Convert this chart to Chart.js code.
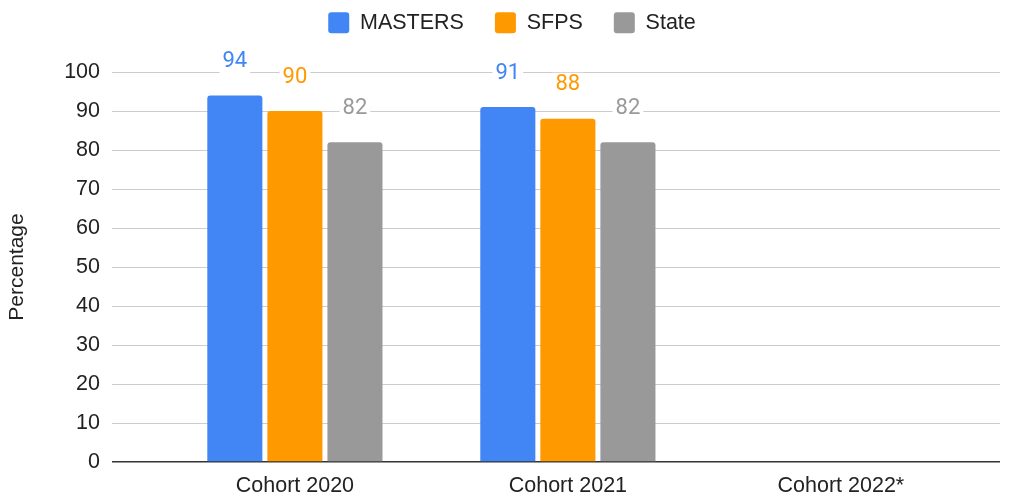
<!DOCTYPE html>
<html>
<head>
<meta charset="utf-8">
<script src="https://cdn.jsdelivr.net/npm/chart.js@4"></script>
<style>
  body { margin: 0; background: #fff; }
  #wrap { width: 1013px; height: 497px; }
</style>
</head>
<body>
<div id="wrap"><canvas id="bar-chart" width="1013" height="497"></canvas></div>
<script>
// graduation rates by cohort
var cohorts = ['Cohort 2020', 'Cohort 2021', 'Cohort 2022*'];
var mastersValues = [94, 91, null];
var sfpsValues = [90, 88, null];
var stateValues = [82, 82, null];
var yTicks = [0, 10, 20, 30, 40, 50, 60, 70, 80, 90, 100];

var colors = ['#4285f4', '#ff9900', '#999999'];

function toPoints(values) {
    return values.map(function (v, i) {
        return { x: i, y: v };
    });
}

// labels above bars, white box behind them like the original
var valueLabels = {
    id: 'valueLabels',
    afterDatasetsDraw: function (chart) {
        var ctx = chart.ctx;
        ctx.save();
        ctx.font = '22px Roboto';
        ctx.textAlign = 'center';
        ctx.textBaseline = 'middle';
        chart.data.datasets.forEach(function (ds, di) {
            var meta = chart.getDatasetMeta(di);
            meta.data.forEach(function (bar, i) {
                var v = ds.data[i].y;
                if (v == null) return;
                var y = bar.y - 34;
                var w = ctx.measureText(v).width;
                ctx.fillStyle = '#fff';
                ctx.fillRect(bar.x - w / 2 - 3, y - 12, w + 6, 24);
                ctx.fillStyle = colors[di];
                ctx.fillText(v, bar.x, y);
            });
        });
        ctx.restore();
    }
};

// fixed legend height, and nudge it right a bit (original is centred over the plot)
var legendFix = {
    id: 'legendFix',
    beforeInit: function (chart) {
        var legend = chart.legend;
        var fit = legend.fit;
        legend.fit = function () {
            fit.bind(legend)();
            this.height = 91;
        };
        var draw = legend.draw;
        legend.draw = function () {
            var c = this.ctx;
            c.save();
            c.translate(12, 0);
            draw.call(this);
            c.restore();
        };
    }
};

var ctx = document.getElementById('bar-chart').getContext('2d');
var myBarChart = new Chart(ctx, {
    type: 'bar',
    data: {
        datasets: [{
            label: 'MASTERS',
            data: toPoints(mastersValues),
            backgroundColor: colors[0]
        }, {
            label: 'SFPS',
            data: toPoints(sfpsValues),
            backgroundColor: colors[1]
        }, {
            label: 'State',
            data: toPoints(stateValues),
            backgroundColor: colors[2]
        }]
    },
    options: {
        responsive: false,
        animation: false,
        categoryPercentage: 0.66,
        barPercentage: 0.917,
        borderRadius: { topLeft: 3, topRight: 3 },
        borderSkipped: 'bottom',
        layout: {
            padding: { top: -19, right: 13, left: 0, bottom: 0 }
        },
        plugins: {
            tooltip: { enabled: false },
            legend: {
                position: 'top',
                labels: {
                    color: '#222',
                    font: { family: 'Liberation Sans', size: 21.5 },
                    boxWidth: 21,
                    boxHeight: 21,
                    padding: 31,
                    useBorderRadius: true,
                    borderRadius: 3
                }
            }
        },
        scales: {
            x: {
                type: 'linear',
                offset: false,
                bounds: 'data',
                min: -0.67,
                max: 2.583,
                grid: { display: false },
                border: { display: false },
                afterBuildTicks: function (scale) {
                    scale.ticks = cohorts.map(function (c, i) { return { value: i }; });
                },
                afterFit: function (scale) {
                    scale.height = 35;
                },
                ticks: {
                    color: '#222',
                    padding: 3,
                    maxRotation: 0,
                    autoSkip: false,
                    font: { family: 'Liberation Sans', size: 21.5 },
                    callback: function (value) {
                        return cohorts[value];
                    }
                }
            },
            y: {
                min: 0,
                max: 100,
                border: { display: false },
                afterBuildTicks: function (scale) {
                    scale.ticks = yTicks.map(function (t) { return { value: t }; });
                },
                afterFit: function (scale) {
                    scale.width = 112;
                },
                grid: {
                    drawTicks: false,
                    color: function (c) {
                        return c.tick && c.tick.value === 0 ? '#333' : '#cccccc';
                    },
                    lineWidth: function (c) {
                        return c.tick && c.tick.value === 0 ? 1.5 : 1;
                    }
                },
                ticks: {
                    color: '#222',
                    padding: 12,
                    font: { family: 'Liberation Sans', size: 21.5 }
                },
                title: {
                    display: true,
                    text: 'Percentage',
                    color: '#222',
                    padding: { top: 5, bottom: 0 },
                    font: { family: 'Liberation Sans', size: 21 }
                }
            }
        }
    },
    plugins: [valueLabels, legendFix]
});
</script>
</body>
</html>
